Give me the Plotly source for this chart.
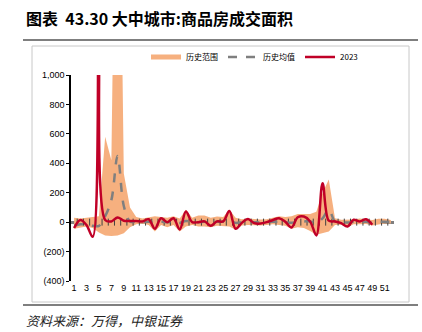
import plotly.graph_objects as go

weeks = list(range(1, 53))
range_upper = [30, 25, 30, 35, 40, 580, 420, 3600, 330, 100,
               35, 25, 30, 40, 35, 30, 40, 25, 85, 30,
               45, 45, 30, 38, 35, 85, 30, 20, 25, 20,
               18, 20, 30, 40, 35, 40, 55, 55, 55, 70,
               200, 290, 27, 16, 15, 18, 25, 20, 15, 23,
               23, 15]
range_lower = [-45, -35, -30, -40, -70, -90, -95, -90, -75, -35,
               -15, -10, -20, -64, -20, -35, -20, -64, -30, -20,
               -30, -30, -35, -25, -30, -30, -52, -23, -20, -23,
               -23, -20, -15, -20, -25, -45, -35, -40, -60, -86,
               -75, -64, -20, -18, -35, -15, -15, -12, -22, -15,
               -10, -10]
hist_mean = [-25, -15, -15, -25, -25, 40, 150, 450, 110, 5,
             2, 0, 3, -5, 3, 0, 3, -5, 8, 0,
             0, 2, -3, 2, 3, 8, -5, 0, 2, 0,
             -2, 0, 2, 3, 0, -4, 4, 5, 5, -5,
             25, 84, 5, 0, -3, 2, 1, 2, -2, 2,
             2, 0]
weeks_2023 = list(range(1, 50))
y2023 = [-40, 15, -20, -100, 1400, 15, 5, 32, 10, 8,
         8, 5, 20, -45, 27, 0, 27, -50, 73, 0,
         0, 5, -25, 5, 5, 75, -45, -5, 22, -7,
         -10, 0, 15, 27, 3, -36, 33, 38, 5, -90,
         265, 10, 5, -7, -30, 16, 5, 20, -18]
y_tickvals = [1000, 800, 600, 400, 200, 0, -200, -400]
y_ticktext = ["1,000", "800", "600", "400", "200", "0", "(200)", "(400)"]
x_tickvals = list(range(1, 52, 2))

ORANGE = "#F6B07F"
GRAY = "#7F7F7F"
RED = "#C00027"

W, H = 422, 332
L, R, T, B = 71, 394, 75, 281


def px(x):
    return (x - L) / (R - L)


def py(y):
    return (B - y) / (B - T)


fig = go.Figure()
fig.add_trace(go.Scatter(x=weeks, y=range_lower, mode="lines", line=dict(width=0, color=ORANGE),
                         showlegend=False, hoverinfo="skip"))
fig.add_trace(go.Scatter(x=weeks, y=range_upper, mode="lines", line=dict(width=0, color=ORANGE),
                         fill="tonexty", fillcolor=ORANGE, showlegend=False, hoverinfo="skip"))
fig.add_trace(go.Scatter(x=[None], y=[None], mode="lines", line=dict(color=ORANGE, width=5),
                         name="历史范围"))
fig.add_trace(go.Scatter(x=[w + 0.5 for w in weeks[:-1]], y=[0] * (len(weeks) - 1), mode="markers",
                         marker=dict(symbol="line-ns", size=5, line=dict(width=1, color="#404040")),
                         showlegend=False, hoverinfo="skip"))
fig.add_trace(go.Scatter(x=weeks, y=hist_mean, mode="lines", name="历史均值",
                         line=dict(color=GRAY, width=2.5, dash="dash", shape="spline", smoothing=1)))
fig.add_trace(go.Scatter(x=weeks_2023, y=y2023, mode="lines", name="2023",
                         line=dict(color=RED, width=2.5, shape="spline", smoothing=1)))

shapes = [
    dict(type="line", xref="paper", yref="paper", x0=px(23), x1=px(418), y0=py(40), y1=py(40),
         line=dict(color=GRAY, width=2)),
    dict(type="rect", xref="paper", yref="paper", x0=px(32), x1=px(409), y0=py(46), y1=py(302),
         line=dict(color="#C8C8C8", width=1)),
    dict(type="line", xref="paper", yref="paper", x0=px(23), x1=px(418), y0=py(305), y1=py(305),
         line=dict(color=GRAY, width=2)),
]

annotations = [
    dict(text="<b>图表  43.30 大中城市:商品房成交面积</b>", xref="paper", yref="paper",
         x=px(24), y=py(18), xanchor="left", yanchor="middle", showarrow=False,
         font=dict(family="Noto Sans CJK SC", size=16, color="#000")),
    dict(text="<i>资料来源：万得，中银证券</i>", xref="paper", yref="paper",
         x=px(24), y=py(320), xanchor="left", yanchor="middle", showarrow=False,
         font=dict(family="Noto Sans CJK SC", size=13, color="#222")),
]

fig.update_layout(
    width=W, height=H,
    margin=dict(l=L, r=W - R, t=T, b=H - B),
    paper_bgcolor="white", plot_bgcolor="white",
    shapes=shapes, annotations=annotations,
    legend=dict(orientation="h", x=px(146), y=py(57), xanchor="left", yanchor="middle",
                font=dict(family="Noto Sans CJK SC", size=8, color="#000"),
                itemwidth=30, bgcolor="rgba(0,0,0,0)", traceorder="normal"),
    xaxis=dict(range=[0.5, 52.5], tickmode="array", tickvals=x_tickvals,
               ticktext=[str(v) for v in x_tickvals], showgrid=False, showline=False,
               zeroline=False, ticks="",
               tickfont=dict(family="Liberation Sans Narrow, Arial Narrow, Arial", size=9, color="#000")),
    yaxis=dict(range=[-400, 1000], tickmode="array", tickvals=y_tickvals, ticktext=y_ticktext,
               showgrid=False, showline=True, linecolor="#000", linewidth=1.5,
               ticks="outside", ticklen=3, tickcolor="#000",
               zeroline=True, zerolinecolor=GRAY, zerolinewidth=2.5,
               tickfont=dict(family="Arial", size=9, color="#000")),
    showlegend=True,
)

fig.write_html("out.html")
